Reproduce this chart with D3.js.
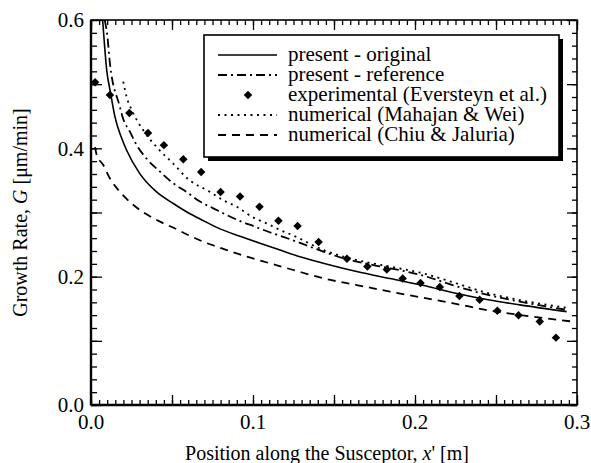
<!DOCTYPE html>
<html>
<head>
<meta charset="utf-8">
<script src="https://cdn.jsdelivr.net/npm/d3@7"></script>
<style>
  body { margin: 0; background: #fff; }
</style>
</head>
<body>
<svg id="chart" width="591" height="463" font-family="'Liberation Serif', 'Times New Roman', Times, 'DejaVu Serif', serif"></svg>
<script>
// Growth rate along the susceptor: model results vs. experiment and other simulations

const xTickLabels = ["0.0", "0.1", "0.2", "0.3"];
const yTickLabels = ["0.0", "0.2", "0.4", "0.6"];

// present - original (solid)
const origX = [0.0072, 0.0097, 0.0121, 0.0148, 0.0189, 0.022, 0.030, 0.0405, 0.0508, 0.0611, 0.0673, 0.0796, 0.092, 0.1043, 0.1167, 0.129, 0.1434, 0.164, 0.1846, 0.2093, 0.2237, 0.2443, 0.2648, 0.2936];
const origG = [0.600, 0.522, 0.486, 0.449, 0.416, 0.397, 0.361, 0.332, 0.314, 0.298, 0.290, 0.2745, 0.263, 0.252, 0.2415, 0.231, 0.221, 0.208, 0.197, 0.184, 0.175, 0.1645, 0.156, 0.1455];

// present - reference (dash-dot)
const refX = [0.0085, 0.0101, 0.0117, 0.0175, 0.0199, 0.024, 0.0282, 0.0343, 0.0426, 0.0508, 0.059, 0.0673, 0.0755, 0.0838, 0.093, 0.1012, 0.1094, 0.1187, 0.127, 0.1434, 0.1558, 0.1743, 0.1949, 0.2072, 0.2237, 0.2443, 0.2648, 0.2946];
const refG = [0.600, 0.575, 0.532, 0.4675, 0.4457, 0.426, 0.405, 0.384, 0.3636, 0.3454, 0.332, 0.317, 0.3065, 0.296, 0.2857, 0.278, 0.270, 0.262, 0.2545, 0.239, 0.2286, 0.218, 0.2078, 0.200, 0.1865, 0.172, 0.161, 0.148];

// experimental (Eversteyn et al.)
const expX = [0.0025, 0.0117, 0.0237, 0.0352, 0.045, 0.057, 0.068, 0.080, 0.092, 0.104, 0.1157, 0.1275, 0.1405, 0.158, 0.1706, 0.1826, 0.1924, 0.2034, 0.2153, 0.2274, 0.2399, 0.2508, 0.2639, 0.277, 0.287];
const expG = [0.503, 0.483, 0.455, 0.424, 0.405, 0.383, 0.363, 0.332, 0.325, 0.309, 0.287, 0.279, 0.254, 0.228, 0.216, 0.211, 0.197, 0.190, 0.184, 0.170, 0.164, 0.147, 0.140, 0.130, 0.105];

// numerical (Mahajan & Wei) (dotted)
const mwX = [0.0199, 0.022, 0.0251, 0.0323, 0.0405, 0.0508, 0.060, 0.0735, 0.0817, 0.090, 0.0992, 0.1085, 0.1167, 0.125, 0.1434, 0.164, 0.1846, 0.2052, 0.2237, 0.2443, 0.2648, 0.2946];
const mwG = [0.504, 0.480, 0.460, 0.428, 0.402, 0.376, 0.352, 0.332, 0.319, 0.309, 0.2935, 0.283, 0.2727, 0.264, 0.2415, 0.226, 0.2156, 0.205, 0.191, 0.175, 0.1636, 0.151];

// numerical (Chiu & Jaluria) (dashed)
const cjX = [0.0025, 0.0035, 0.0076, 0.0117, 0.0179, 0.0251, 0.0333, 0.0426, 0.0519, 0.060, 0.0693, 0.0838, 0.0961, 0.1105, 0.1249, 0.1434, 0.164, 0.1846, 0.2072, 0.2237, 0.2443, 0.2648, 0.2977];
const cjG = [0.402, 0.390, 0.374, 0.353, 0.332, 0.314, 0.2987, 0.2857, 0.275, 0.265, 0.2545, 0.2415, 0.2312, 0.2208, 0.2104, 0.1974, 0.187, 0.1766, 0.166, 0.1584, 0.148, 0.1403, 0.1299];

const legendLabels = [
  "present - original",
  "present - reference",
  "experimental (Eversteyn et al.)",
  "numerical (Mahajan & Wei)",
  "numerical (Chiu & Jaluria)"
];

const W = 591, H = 463;
const margin = { left: 91, top: 20, right: 14, bottom: 58 };
const plotW = W - margin.left - margin.right;   // 486
const plotH = H - margin.top - margin.bottom;   // 385

const svg = d3.select("#chart");
const g = svg.append("g").attr("transform", `translate(${margin.left},${margin.top})`);

const x = d3.scaleLinear().domain([0, 0.3]).range([0, plotW]);
const y = d3.scaleLinear().domain([0, 0.6]).range([plotH, 0]);

svg.append("defs").append("clipPath").attr("id", "plotClip")
  .append("rect").attr("width", plotW).attr("height", plotH);

// inward ticks on all four sides
const xMinor = d3.range(0, 0.3001, 0.005);
const xMajor = d3.range(0, 0.3001, 0.05);
const yMinor = d3.range(0, 0.6001, 0.02);
const yMajor = d3.range(0, 0.6001, 0.1);

function tickAxis(axis, ticks, size) {
  return axis.tickValues(ticks).tickSize(size).tickFormat("");
}
const axisStyle = sel => {
  sel.select(".domain").remove();
  sel.selectAll("line").attr("stroke", "#000").attr("stroke-width", 1.3);
};

g.append("g").attr("transform", `translate(0,${plotH})`).call(tickAxis(d3.axisTop(x), xMinor, 5)).call(axisStyle);
g.append("g").attr("transform", `translate(0,${plotH})`).call(tickAxis(d3.axisTop(x), xMajor, 10)).call(axisStyle);
g.append("g").call(tickAxis(d3.axisBottom(x), xMinor, 5)).call(axisStyle);
g.append("g").call(tickAxis(d3.axisBottom(x), xMajor, 10)).call(axisStyle);
g.append("g").call(tickAxis(d3.axisRight(y), yMinor, 6)).call(axisStyle);
g.append("g").call(tickAxis(d3.axisRight(y), yMajor, 11)).call(axisStyle);
g.append("g").attr("transform", `translate(${plotW},0)`).call(tickAxis(d3.axisLeft(y), yMinor, 5)).call(axisStyle);
g.append("g").attr("transform", `translate(${plotW},0)`).call(tickAxis(d3.axisLeft(y), yMajor, 10)).call(axisStyle);

// tick labels
g.append("g").selectAll("text").data(xTickLabels).join("text")
  .attr("x", d => x(+d)).attr("y", plotH + 24)
  .attr("text-anchor", "middle").attr("font-size", 21).text(d => d);
g.append("g").selectAll("text").data(yTickLabels).join("text")
  .attr("x", -7).attr("y", d => y(+d)).attr("dy", "0.35em")
  .attr("text-anchor", "end").attr("font-size", 21).text(d => d);

// frame
g.append("rect").attr("width", plotW).attr("height", plotH)
  .attr("fill", "none").attr("stroke", "#000").attr("stroke-width", 1.6);
g.append("line").attr("x1", 0).attr("x2", 0).attr("y1", 0).attr("y2", plotH)
  .attr("stroke", "#000").attr("stroke-width", 2.4);
g.append("line").attr("x1", 0).attr("x2", plotW).attr("y1", plotH).attr("y2", plotH)
  .attr("stroke", "#000").attr("stroke-width", 2.4);

// curves
const line = d3.line().x(d => x(d[0])).y(d => y(d[1])).curve(d3.curveMonotoneX);
const zip = (xs, ys) => xs.map((v, i) => [v, ys[i]]);

const series = [
  { pts: zip(origX, origG), dash: null, w: 1.6 },
  { pts: zip(refX, refG), dash: "9,4,2,4", w: 1.8 },
  { pts: zip(mwX, mwG), dash: "2,4.5", w: 1.8 },
  { pts: zip(cjX, cjG), dash: "8,6", w: 1.8 }
];
const curves = g.append("g").attr("clip-path", "url(#plotClip)");
series.forEach(s => {
  curves.append("path").attr("d", line(s.pts))
    .attr("fill", "none").attr("stroke", "#000").attr("stroke-width", s.w)
    .attr("stroke-dasharray", s.dash);
});

// experimental points
const diamond = d3.symbol().type(d3.symbolDiamond2).size(46);
g.append("g").selectAll("path").data(zip(expX, expG)).join("path")
  .attr("transform", d => `translate(${x(d[0])},${y(d[1])})`)
  .attr("d", diamond).attr("fill", "#000");

// legend with drop shadow
const lg = svg.append("g").attr("transform", "translate(204,35)");
const lgW = 355, lgH = 122;
lg.append("rect").attr("x", 4).attr("y", 4).attr("width", lgW).attr("height", lgH).attr("fill", "#000");
lg.append("rect").attr("width", lgW).attr("height", lgH)
  .attr("fill", "#fff").attr("stroke", "#000").attr("stroke-width", 1.6);

legendLabels.forEach((label, i) => {
  const ry = 20 + i * 20;
  if (i === 2) {
    lg.append("path").attr("transform", `translate(44,${ry})`).attr("d", diamond).attr("fill", "#000");
  } else {
    const s = series[i < 2 ? i : i - 1];
    lg.append("line").attr("x1", 14).attr("x2", 73).attr("y1", ry).attr("y2", ry)
      .attr("stroke", "#000").attr("stroke-width", s.w).attr("stroke-dasharray", s.dash);
  }
  lg.append("text").attr("x", 84).attr("y", ry).attr("dy", "0.3em")
    .attr("font-size", 21).text(label);
});

// axis titles
svg.append("text").attr("x", margin.left + plotW / 2 - 7).attr("y", 460)
  .attr("text-anchor", "middle").attr("font-size", 20)
  .html('Position along the Susceptor, <tspan font-style="italic">x</tspan>\' [m]');

svg.append("text").attr("transform", `translate(27,${margin.top + plotH / 2}) rotate(-90)`)
  .attr("text-anchor", "middle").attr("font-size", 20)
  .html('Growth Rate, <tspan font-style="italic">G</tspan> [μm/min]');
</script>
</body>
</html>
